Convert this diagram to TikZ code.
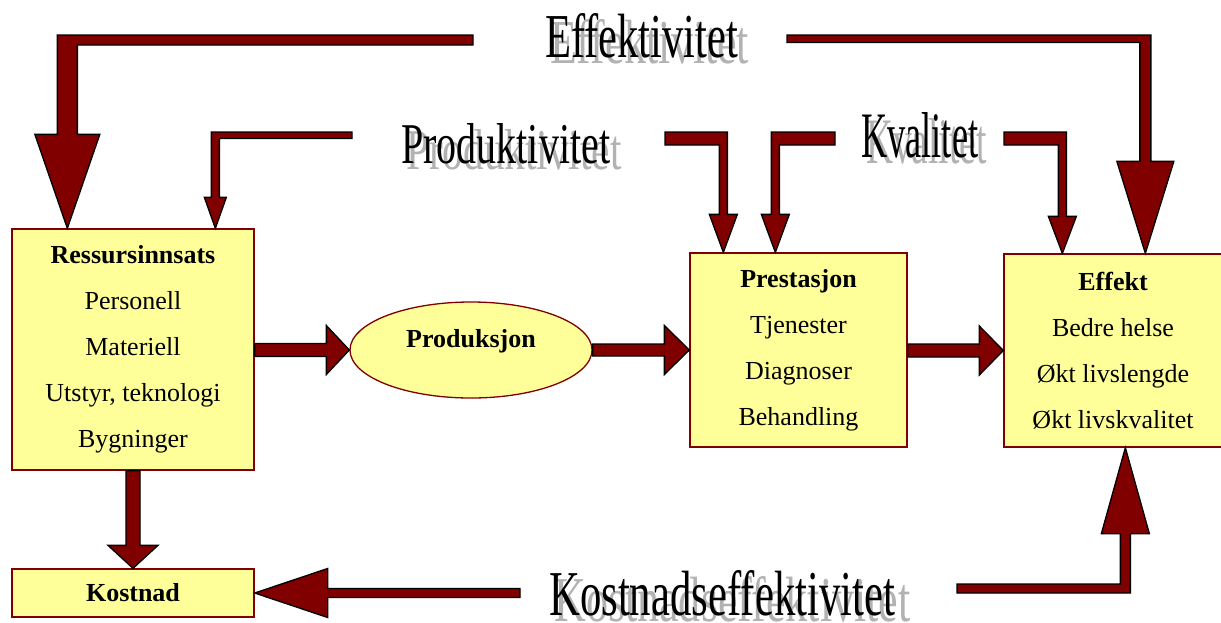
\documentclass[tikz,border=0pt]{standalone}
\usepackage{fontspec}
\setmainfont{Liberation Serif}
\usetikzlibrary{calc,shapes.geometric}

\definecolor{arrowred}{RGB}{128,0,0}
\definecolor{boxfill}{RGB}{255,255,153}
\definecolor{shadowgray}{RGB}{178,178,178}

\tikzset{
  boxnode/.style={draw=arrowred, line width=1.3pt, fill=boxfill, inner sep=0pt,
    align=center, font=\fontsize{26}{46}\selectfont},
  fatarrow/.style={fill=arrowred, draw=black, line width=1.3pt, line join=miter},
  titletext/.style={inner sep=0pt, anchor=base west},
}

% straight block arrows: #1 tail, #2 tip, #3 half shaft, #4 half head, #5 head length
\newcommand{\arrowright}[5]{%
  \filldraw[fatarrow] let \p1=(#1), \p2=(#2) in
    (\x1,\y2+#3pt) -- (\x2-#5pt,\y2+#3pt) -- (\x2-#5pt,\y2+#4pt) -- (\x2,\y2)
    -- (\x2-#5pt,\y2-#4pt) -- (\x2-#5pt,\y2-#3pt) -- (\x1,\y2-#3pt) -- cycle;}
\newcommand{\arrowleft}[5]{%
  \filldraw[fatarrow] let \p1=(#1), \p2=(#2) in
    (\x1,\y2+#3pt) -- (\x2+#5pt,\y2+#3pt) -- (\x2+#5pt,\y2+#4pt) -- (\x2,\y2)
    -- (\x2+#5pt,\y2-#4pt) -- (\x2+#5pt,\y2-#3pt) -- (\x1,\y2-#3pt) -- cycle;}
\newcommand{\arrowdown}[5]{%
  \filldraw[fatarrow] let \p1=(#1), \p2=(#2) in
    (\x2-#3pt,\y1) -- (\x2-#3pt,\y2+#5pt) -- (\x2-#4pt,\y2+#5pt) -- (\x2,\y2)
    -- (\x2+#4pt,\y2+#5pt) -- (\x2+#3pt,\y2+#5pt) -- (\x2+#3pt,\y1) -- cycle;}

% bent block arrows: #1 free end (outer edge of the bar), #2 tip,
% #3 bar thickness, #4 half shaft, #5 half head, #6 head length
\newcommand{\bentleftdown}[6]{%
  \filldraw[fatarrow] let \p1=(#1), \p2=(#2) in
    (\x1,\y1) -- (\x2-#4pt,\y1) -- (\x2-#4pt,\y2+#6pt) -- (\x2-#5pt,\y2+#6pt) -- (\x2,\y2)
    -- (\x2+#5pt,\y2+#6pt) -- (\x2+#4pt,\y2+#6pt) -- (\x2+#4pt,\y1-#3pt) -- (\x1,\y1-#3pt) -- cycle;}
\newcommand{\bentrightdown}[6]{%
  \filldraw[fatarrow] let \p1=(#1), \p2=(#2) in
    (\x1,\y1) -- (\x2+#4pt,\y1) -- (\x2+#4pt,\y2+#6pt) -- (\x2+#5pt,\y2+#6pt) -- (\x2,\y2)
    -- (\x2-#5pt,\y2+#6pt) -- (\x2-#4pt,\y2+#6pt) -- (\x2-#4pt,\y1-#3pt) -- (\x1,\y1-#3pt) -- cycle;}
\newcommand{\bentrightup}[6]{%
  \filldraw[fatarrow] let \p1=(#1), \p2=(#2) in
    (\x1,\y1) -- (\x2+#4pt,\y1) -- (\x2+#4pt,\y2-#6pt) -- (\x2+#5pt,\y2-#6pt) -- (\x2,\y2)
    -- (\x2-#5pt,\y2-#6pt) -- (\x2-#4pt,\y2-#6pt) -- (\x2-#4pt,\y1+#3pt) -- (\x1,\y1+#3pt) -- cycle;}

% condensed heading with a grey drop copy: #1 name, #2 left x, #3 baseline, #4 width, #5 height, #6 text
\newcommand{\heading}[6]{%
  \node[titletext, text=shadowgray] (#1shadow) at (#2+5,#3+6)
    {\resizebox{\dimexpr #4pt*103/100\relax}{#5pt}{#6}};
  \node[titletext] (#1) at (#2,#3) {\resizebox{#4pt}{#5pt}{#6}};}

\begin{document}
\begin{tikzpicture}[x=1pt,y=-1pt]
\useasboundingbox (0,0) rectangle (1221,622);

% boxes
\node[boxnode, minimum width=242pt, minimum height=241pt] (res) at (133,349.5)
  {\textbf{Ressursinnsats}\\Personell\\Materiell\\Utstyr, teknologi\\Bygninger};
\node[boxnode, minimum width=242pt, minimum height=48pt] (kost) at (133,593)
  {\textbf{Kostnad}};
\node[ellipse, draw=arrowred, line width=1.3pt, fill=boxfill, inner sep=0pt,
  minimum width=242pt, minimum height=96pt] (prod) at (471,350) {};
\node[inner sep=0pt, font=\bfseries\fontsize{26}{30}\selectfont] (prodlabel)
  at ($(prod.center)+(0,-9)$) {Produksjon};
\node[boxnode, minimum width=217pt, minimum height=194pt] (prest) at (798.5,350)
  {\textbf{Prestasjon}\\Tjenester\\Diagnoser\\Behandling};
\node[boxnode, minimum width=218pt, minimum height=193pt] (eff) at (1113,350.5)
  {\textbf{Effekt}\\Bedre helse\\Økt livslengde\\Økt livskvalitet};

% headings
\heading{effTitle}{545}{57}{193}{44}{Effektivitet}
\heading{prodTitle}{401}{163}{209}{40}{Produktivitet}
\heading{kvalTitle}{861}{157}{117}{45}{Kvalitet}
\heading{kostTitle}{549}{615}{346}{45}{Kostnadseffektivitet}

% free ends of the bars
\coordinate (effL) at (473,35);
\coordinate (effR) at (787,35);
\coordinate (prodL) at (352,132);
\coordinate (prodR) at (665,132);
\coordinate (kvalL) at (835,132);
\coordinate (kvalR) at (1004,132);
\coordinate (kostR) at (957,593);
\coordinate (kostL) at (520,592.5);

% bent arrows from the headings
\bentleftdown{effL}{$(res.north west)+(56,0)$}{10}{10}{32.5}{94}
\bentleftdown{prodL}{$(res.north west)+(204,0)$}{6.5}{4}{11}{31}
\bentrightdown{prodR}{$(prest.north west)+(34,0)$}{13}{4}{14}{38}
\bentleftdown{kvalL}{$(prest.north west)+(86,0)$}{13}{4}{14}{38}
\bentrightdown{kvalR}{$(eff.north west)+(59,0)$}{13}{4}{14}{37}
\bentrightdown{effR}{$(eff.north west)+(142,0)$}{7.5}{5.5}{28.5}{92}
\bentrightup{kostR}{$(eff.south west)+(122,0)$}{9}{5}{24}{86}

% straight arrows
\arrowdown{res.south}{kost.north}{7}{25}{23}
\arrowleft{kostL}{kost.east}{4.5}{24.5}{73}
\arrowright{res.east}{prod.west}{6.5}{24.5}{23}
\arrowright{prod.east}{prest.west}{6}{24.5}{25}
\arrowright{prest.east}{eff.west}{6.5}{24.5}{24}
\end{tikzpicture}
\end{document}
